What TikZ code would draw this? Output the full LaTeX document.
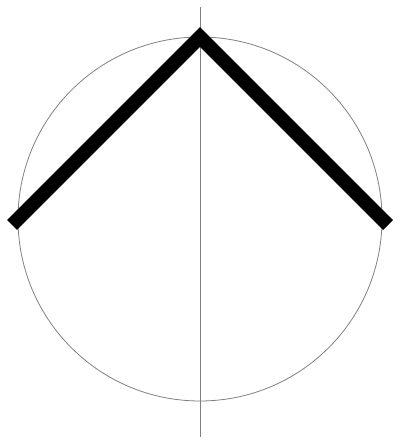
\documentclass[tikz,border=0pt]{standalone}
\begin{document}
\begin{tikzpicture}[x=1pt,y=1pt,
  thinline/.style={draw=black!50,line width=0.8pt},
  chevron/.style={draw=black,line width=14pt,line join=miter,line cap=butt}]
\useasboundingbox (0,0) rectangle (400,444);
\coordinate (c) at (200,225);
\draw[thinline] (c) circle (182);
\draw[thinline] (200,437) -- (200,7);
\coordinate (l) at (12,219);
\coordinate (t) at (200,407);
\coordinate (r) at (388,219);
\draw[chevron] (l) -- (t) -- (r);
\end{tikzpicture}
\end{document}
